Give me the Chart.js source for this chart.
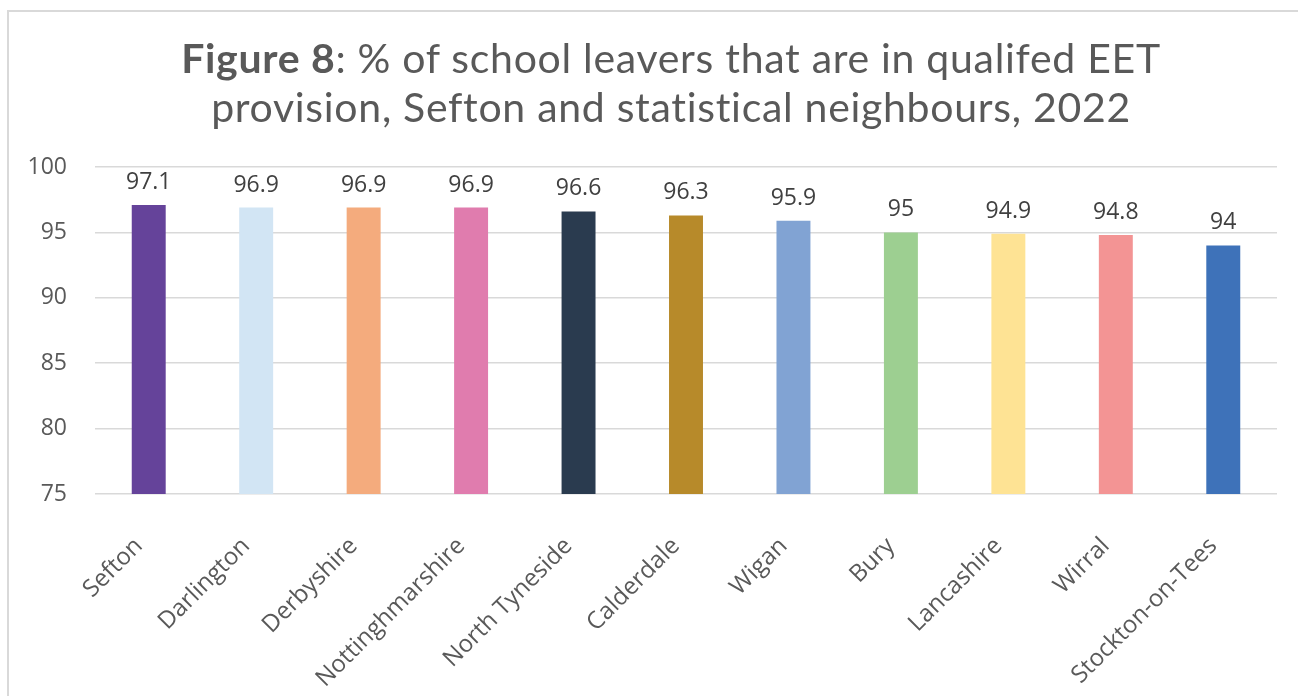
<!DOCTYPE html>
<html>
<head>
<meta charset="utf-8">
<script src="https://cdn.jsdelivr.net/npm/chart.js@4.4.1/dist/chart.umd.min.js"></script>
<style>
  html, body { margin: 0; padding: 0; background: #ffffff; }
  body { width: 1298px; height: 696px; position: relative; overflow: hidden; }
  #frame { position: absolute; left: 7px; top: 10px; width: 1400px; height: 800px; border: 2px solid #d9d9d9; box-sizing: border-box; }
  #title { position: absolute; left: 22px; top: 33px; width: 1298px; text-align: center; font-family: "Lato", sans-serif; font-size: 41px; letter-spacing: 0.7px; line-height: 49px; color: #595959; font-weight: 400; }
  #title b { font-weight: 700; }
  #wrap { position: absolute; left: 0; top: 0; width: 1298px; height: 696px; }
</style>
</head>
<body>
<div id="frame"></div>
<div id="wrap"><canvas id="c" width="1298" height="696"></canvas></div>
<div id="title"><b>Figure 8</b>: % of school leavers that are in qualifed EET<br>provision, Sefton and statistical neighbours, 2022</div>
<script>
const categories = ["Sefton", "Darlington", "Derbyshire", "Nottinghmarshire", "North Tyneside", "Calderdale", "Wigan", "Bury", "Lancashire", "Wirral", "Stockton-on-Tees"];
const values = [97.1, 96.9, 96.9, 96.9, 96.6, 96.3, 95.9, 95, 94.9, 94.8, 94];
const barColors = ["#65439a", "#d2e5f4", "#f4ab7d", "#e07cae", "#2a3b4f", "#b78a2a", "#81a3d3", "#9dcf91", "#fee394", "#f39494", "#3e72b9"];
const yMin = 75, yMax = 100, yStep = 5;

const dataLabels = {
  id: 'dataLabels',
  afterDatasetsDraw(chart) {
    const ctx = chart.ctx;
    const meta = chart.getDatasetMeta(0);
    ctx.save();
    ctx.font = '23px "Open Sans", sans-serif';
    ctx.fillStyle = '#404040';
    ctx.textAlign = 'center';
    ctx.textBaseline = 'alphabetic';
    meta.data.forEach((bar, i) => {
      ctx.fillText(String(values[i]), bar.x, bar.y - 16);
    });
    ctx.restore();
  }
};

new Chart(document.getElementById('c'), {
  type: 'bar',
  data: {
    labels: categories,
    datasets: [{
      data: values,
      backgroundColor: barColors,
      borderWidth: 0,
      categoryPercentage: 1,
      barPercentage: 0.316
    }]
  },
  options: {
    responsive: false,
    animation: false,
    layout: { padding: { top: 167, left: 0, right: 21, bottom: 0 } },
    plugins: { legend: { display: false }, tooltip: { enabled: false }, title: { display: false } },
    scales: {
      x: {
        grid: { display: false, drawTicks: false },
        border: { display: false },
        ticks: {
          autoSkip: false, minRotation: 45, maxRotation: 45, padding: 38, labelOffset: -10,
          color: '#595959', font: { family: '"Open Sans", sans-serif', size: 24 }
        },
        afterFit(scale) { scale.height = 202; }
      },
      y: {
        min: yMin, max: yMax,
        grid: { color: '#d9d9d9', lineWidth: 1.5, drawTicks: false },
        border: { display: false },
        ticks: {
          stepSize: yStep, padding: 28,
          color: '#595959', font: { family: '"Open Sans", sans-serif', size: 23 }
        },
        afterFit(scale) { scale.width = 95; }
      }
    }
  },
  plugins: [dataLabels]
});
</script>
</body>
</html>
